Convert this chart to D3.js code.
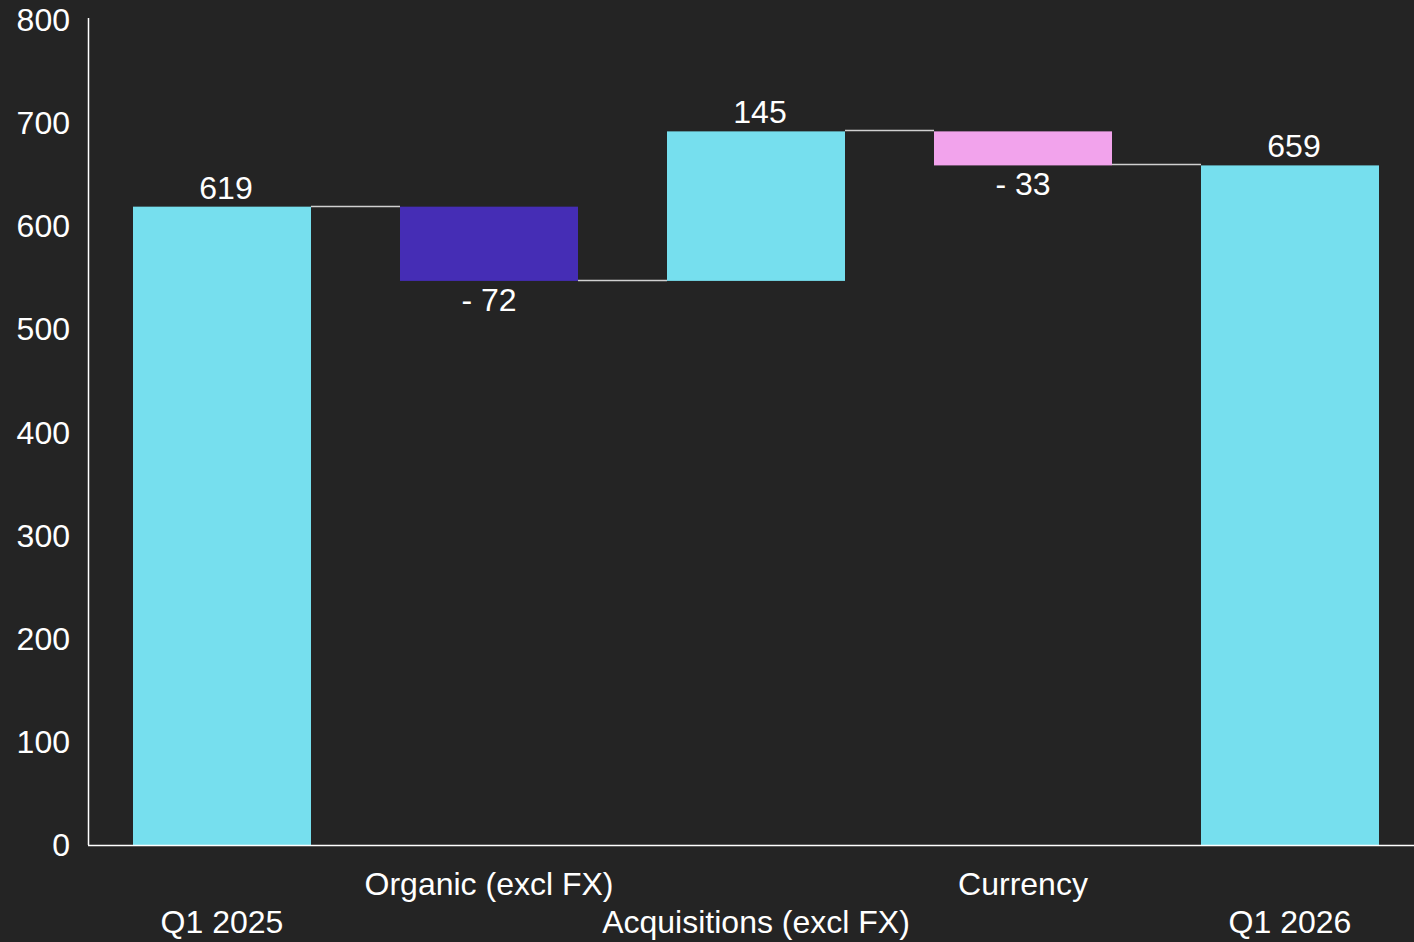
<!DOCTYPE html>
<html>
<head>
<meta charset="utf-8">
<script src="https://cdn.jsdelivr.net/npm/d3@7"></script>
<style>
  html, body { margin: 0; padding: 0; background: #242424; }
  svg { display: block; font-family: "Liberation Sans", Arial, sans-serif; }
</style>
</head>
<body>
<div class="chart"></div>
<script>
// waterfall data
var categories = ["Q1 2025", "Organic (excl FX)", "Acquisitions (excl FX)", "Currency", "Q1 2026"];
var values = [619, -72, 145, -33, 659];
var kinds = ["total", "delta", "delta", "delta", "total"];
var yTicks = [0, 100, 200, 300, 400, 500, 600, 700, 800];

var width = 1414, height = 942;

var colors = { total: "#76dfee", down1: "#452db5", down2: "#f2a3ec", up: "#76dfee" };

// build start/end for every step
var running = 0;
var steps = categories.map(function(c, i) {
  var start, end;
  if (kinds[i] === "total") { start = 0; end = values[i]; running = values[i]; }
  else { start = running; end = running + values[i]; running = end; }
  return { name: c, value: values[i], kind: kinds[i], start: start, end: end, i: i };
});

var x = d3.scaleBand()
    .domain(categories)
    .range([88.5, 1423.5])
    .paddingInner(1 / 3)
    .paddingOuter(1 / 6);

var y = d3.scaleLinear()
    .domain([0, 800])
    .range([845, 20]);

var svg = d3.select(".chart").append("svg")
    .attr("width", width)
    .attr("height", height);

svg.append("rect").attr("width", width).attr("height", height).attr("fill", "#242424");

function barColor(d) {
  if (d.kind === "total") return colors.total;
  if (d.value > 0) return colors.up;
  return d.name === "Currency" ? colors.down2 : colors.down1;
}

// bars
svg.selectAll(".bar")
    .data(steps)
  .enter().append("rect")
    .attr("class", "bar")
    .attr("x", function(d) { return x(d.name); })
    .attr("width", x.bandwidth())
    .attr("y", function(d) { return y(Math.max(d.start, d.end)); })
    .attr("height", function(d) { return Math.abs(y(d.start) - y(d.end)); })
    .attr("fill", barColor);

// connectors
svg.selectAll(".conn")
    .data(steps.slice(0, -1))
  .enter().append("line")
    .attr("x1", function(d) { return x(d.name) + x.bandwidth(); })
    .attr("x2", function(d) { return x(categories[d.i + 1]); })
    .attr("y1", function(d) { return Math.round(y(d.end)) - 0.5; })
    .attr("y2", function(d) { return Math.round(y(d.end)) - 0.5; })
    .attr("stroke", "#d0d0d0")
    .attr("stroke-width", 1.5);

// axes lines
svg.append("line")
    .attr("x1", 88.5).attr("x2", 88.5)
    .attr("y1", y(800) - 2).attr("y2", y(0))
    .attr("stroke", "#ffffff").attr("stroke-width", 1.5);
svg.append("line")
    .attr("x1", 88).attr("x2", width)
    .attr("y1", y(0) + 0.5).attr("y2", y(0) + 0.5)
    .attr("stroke", "#ffffff").attr("stroke-width", 1.5);

// y tick labels
svg.selectAll(".ytick")
    .data(yTicks)
  .enter().append("text")
    .attr("x", 70)
    .attr("y", function(d) { return y(d) + 11; })
    .attr("text-anchor", "end")
    .attr("fill", "#ffffff")
    .style("font-size", "32px")
    .text(function(d) { return d; });

// value labels
svg.selectAll(".vlabel")
    .data(steps)
  .enter().append("text")
    .attr("x", function(d) { return x(d.name) + x.bandwidth() / 2 + (d.value > 0 ? 4 : 0); })
    .attr("y", function(d) {
      return d.value > 0 ? y(Math.max(d.start, d.end)) - 8 : y(Math.min(d.start, d.end)) + 30;
    })
    .attr("text-anchor", "middle")
    .attr("fill", "#ffffff")
    .style("font-size", "32px")
    .text(function(d) { return d.value > 0 ? d.value : "- " + Math.abs(d.value); });

// category labels, staggered in two rows
svg.selectAll(".xlabel")
    .data(steps)
  .enter().append("text")
    .attr("x", function(d) { return x(d.name) + x.bandwidth() / 2; })
    .attr("y", function(d) { return d.i % 2 === 1 ? 895 : 933; })
    .attr("text-anchor", "middle")
    .attr("fill", "#ffffff")
    .style("font-size", "32px")
    .text(function(d) { return d.name; });
</script>
</body>
</html>
